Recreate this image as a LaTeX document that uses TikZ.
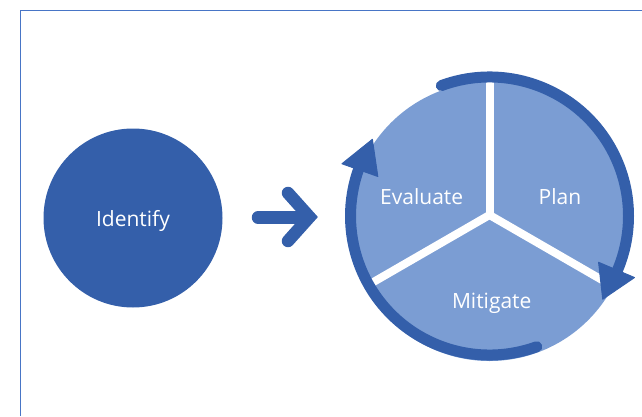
\documentclass[tikz,border=0pt]{standalone}
\usepackage{fontspec}
\setmainfont{Open Sans}
\definecolor{darkblue}{RGB}{52,95,170}
\definecolor{lightblue}{RGB}{123,157,211}
\definecolor{framecol}{RGB}{72,117,198}
\begin{document}
\begin{tikzpicture}[x=1pt,y=1pt,
  lbl/.style={text=white,font=\fontsize{21}{24}\selectfont,anchor=base,inner sep=0pt},
  ringarc/.style={draw=darkblue,line width=11pt,line cap=round},
  headtri/.style={fill=darkblue,draw=darkblue,line width=1pt,line join=round},
  divider/.style={draw=white,line width=8pt},
  bigarrow/.style={draw=darkblue,line width=12.5pt,line cap=round}]
\useasboundingbox (0,0) rectangle (642,416);
% frame
\coordinate (fb) at (20.5,0);
\coordinate (fc) at (20.5,405.5);
\coordinate (fr) at (642,405.5);
\draw[framecol,line width=1.4pt] (fb) -- (fc) -- (fr);
% Identify circle
\node[circle,fill=darkblue,minimum size=179pt,inner sep=0pt] (identify) at (133,198) {};
\node[lbl] (identifytext) at (133,190) {Identify};
% big arrow
\coordinate (a0) at (258,198.5);
\coordinate (a1) at (304,198.5);
\coordinate (c0) at (288,223);
\coordinate (c1) at (309.5,199);
\coordinate (c2) at (288,175);
\draw[bigarrow] (a0) -- (a1);
\draw[bigarrow,line join=miter] (c0) -- (c1) -- (c2);
% pie
\coordinate (pc) at (489.5,194.5);
\coordinate (hub) at (489.5,201);
\coordinate (rc) at (489.5,200);
\fill[lightblue] (pc) circle (139.5);
\begin{scope}
  \clip (pc) circle (139.5);
  \draw[divider] (hub) -- ++(90:170);
  \draw[divider] (hub) -- ++(-30:170);
  \draw[divider] (hub) -- ++(210:170);
\end{scope}
% ring arcs
\draw[ringarc] ([shift={(110.3:139)}]rc) arc[start angle=110.3,end angle=-23,radius=139];
\draw[ringarc] ([shift={(-70.1:139)}]rc) arc[start angle=-70.1,end angle=-199.5,radius=139];
% arrowheads
\filldraw[headtri] ([shift={(-23:118.5)}]rc) -- ([shift={(-36.3:140.5)}]rc) -- ([shift={(-23:157.5)}]rc) -- cycle;
\filldraw[headtri] ([shift={(160.5:118.5)}]rc) -- ([shift={(146.8:140)}]rc) -- ([shift={(160.5:156.5)}]rc) -- cycle;
% labels
\node[lbl] (evaluate) at (421.7,212) {Evaluate};
\node[lbl] (plan) at (560,212) {Plan};
\node[lbl] (mitigate) at (491.7,108) {Mitigate};
\end{tikzpicture}
\end{document}
